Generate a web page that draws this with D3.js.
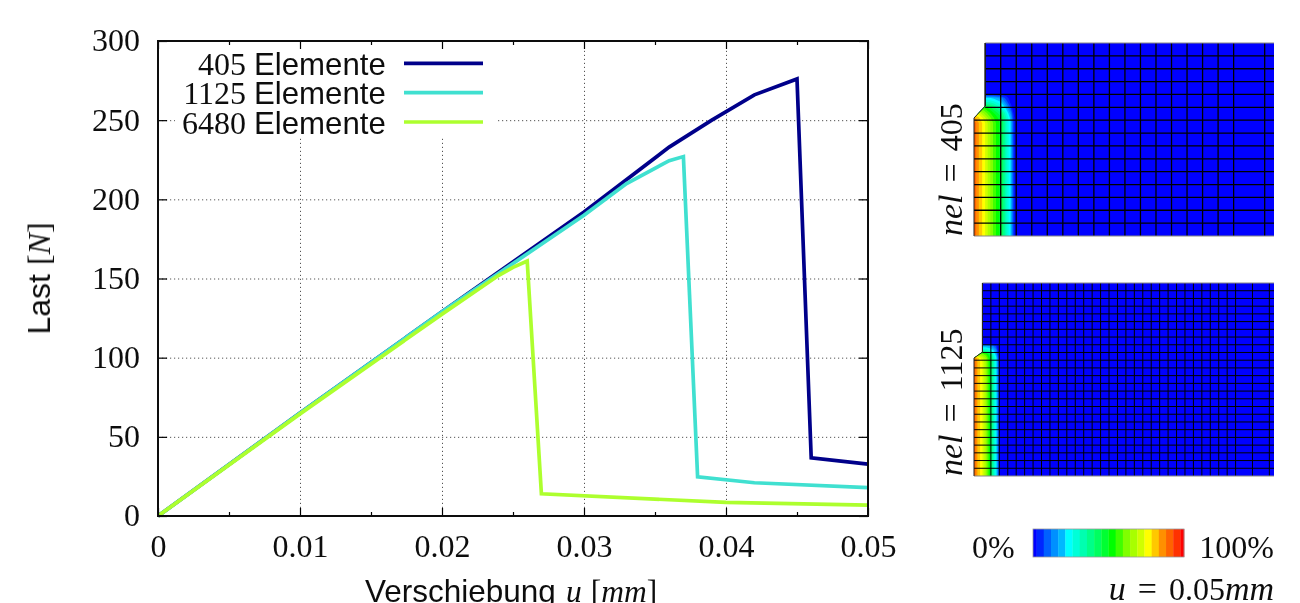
<!DOCTYPE html>
<html><head><meta charset="utf-8">
<script src="https://cdnjs.cloudflare.com/ajax/libs/d3/7.8.5/d3.min.js"></script>
<style>
html,body{margin:0;padding:0;background:#fff;overflow:hidden}
svg{display:block}
text{fill:#111}
.serif,.serif text{font-family:"Liberation Serif",serif}
.sans{font-family:"Liberation Sans",sans-serif}
.it{font-style:italic}
</style></head><body>
<svg id="c" width="1300" height="603"></svg>
<script>
// ---- chart data ----
const seriesNames = ["405","1125","6480"];
const seriesColors = ["#05058a","#40e0d0","#adff2f"];
const series405 = [[0,0],[0.01,65],[0.02,129],[0.03,192],[0.036,233],[0.039,250],[0.042,266],[0.045,276],[0.046,36.8],[0.05,32.8]];
const series1125 = [[0,0],[0.01,65],[0.02,129],[0.03,190],[0.033,210],[0.036,224.4],[0.037,227],[0.038,24.8],[0.042,21],[0.05,17.9]];
const series6480 = [[0,0],[0.01,64.5],[0.02,127.5],[0.024,152],[0.025,157],[0.026,161],[0.027,14],[0.04,8.6],[0.05,6.9]];
const xMajor = [0,0.01,0.02,0.03,0.04,0.05];
const xLabels = ["0","0.01","0.02","0.03","0.04","0.05"];
const xMinor = [0.005,0.015,0.025,0.035,0.045];
const yMajor = [0,50,100,150,200,250,300];

// ---- colour legend ----
const bandColors = ["#0000ff","#0028ff","#0060ff","#0090ff","#00b8ff","#00ffff","#00ffd8","#00ffb0","#00ff88","#00ff60","#00ff30","#00ff00","#40ff00","#80ff00","#a8ff00","#d0ff00","#ffff00","#ffc800","#ff9000","#ff6400","#ff3000","#ff0000"];

// ---- FE meshes, in element units ----
const mesh405Cols = [0,1,2,3,4,5,6,7,8,9,10,11,12,13,14,15,16,18];
const mesh405Rows = [0,1,2,3,4,5,6,7,8,9,10,11,12,13,14,15];
const mesh1125Cols = [1,2,3,4,5,6,7,8,9,10,11,12,13,14,15,16,17,18,19,20,21,22,23,24,25,26,27,28,29,30,31,33,35];
const mesh1125Rows = [0,1,2,3,4,5,6,7,8,9,10,11,12,13,14,15,16,17,18,19,20,21,22,23,24,25];
const outline405 = [[0,15],[18.6,15],[18.6,0],[-0.72,0],[-0.72,9.17],[0,10.1]];
const outline1125 = [[1,25],[35.55,25],[35.55,0],[0,0],[0,15.28],[1,16.05]];

// damage field samples (percent)
const field405X = [-0.72,-0.44,-0.08,0.27,0.56,0.99,1.34,1.63,1.8,1.93,4];
const field405Y = [0,8.78,9.17,9.56,9.95,10.33,10.72,11.03,11.8];
const field405 = [
 [92,84,76,66,58,48,32,22,8,0,0],
 [92,84,76,66,58,48,32,22,8,0,0],
 [85,80,72,62,55,47,32,20,6,0,0],
 [72,72,64,56,50,42,28,15,3,0,0],
 [55,55,55,48,42,32,20,8,0,0,0],
 [34,34,34,33,30,24,12,2,0,0,0],
 [22,22,22,22,20,15,5,0,0,0,0],
 [0,0,0,0,0,0,0,0,0,0,0],
 [0,0,0,0,0,0,0,0,0,0,0]];
const field1125X = [0,0.47,0.9,1.39,1.9,2.25,2.61,2.84,3.08,5.5];
const field1125Y = [0,14.77,15.28,15.8,16.3,16.84,17.1,18.2];
const field1125 = [
 [92,82,76,66,50,34,24,12,0,0],
 [92,82,76,66,50,34,24,12,0,0],
 [88,80,72,64,50,34,24,10,0,0],
 [62,62,62,56,44,30,18,5,0,0],
 [30,30,30,30,26,22,14,2,0,0],
 [18,18,18,18,16,12,6,0,0,0],
 [0,0,0,0,0,0,0,0,0,0],
 [0,0,0,0,0,0,0,0,0,0]];

// ---- drawing ----
const svg = d3.select("#c");
const defs = svg.append("defs");
defs.append("filter").attr("id","soft").attr("x","-2%").attr("y","-2%").attr("width","104%").attr("height","104%")
  .append("feGaussianBlur").attr("stdDeviation",0.45);
const root = svg.append("g").attr("filter","url(#soft)");

const L=158,R=868,T=41,B=516;
const x = d3.scaleLinear().domain([0,0.05]).range([L,R]);
const y = d3.scaleLinear().domain([0,300]).range([B,T]);
const plot = root.append("g");

function tidy(g){ g.select(".domain").remove(); g.selectAll("text").remove(); }
// grid
plot.append("g").attr("transform",`translate(0,${B})`)
  .call(d3.axisBottom(x).tickValues(xMajor.slice(1,-1)).tickSize(-(B-T))).call(tidy)
  .selectAll("line").attr("stroke","#555").attr("stroke-width",1).attr("stroke-dasharray","1.2 2.8");
plot.append("g").attr("transform",`translate(${L},0)`)
  .call(d3.axisLeft(y).tickValues(yMajor.slice(1,-1)).tickSize(-(R-L))).call(tidy)
  .selectAll("line").attr("stroke","#555").attr("stroke-width",1).attr("stroke-dasharray","1.2 2.8");
// legend background hides the grid
plot.append("rect").attr("x",175).attr("y",45).attr("width",323).attr("height",93).attr("fill","#fff");

// curves
const lineGen = d3.line().x(d=>x(d[0])).y(d=>y(d[1]));
[series405,series1125,series6480].forEach((s,i)=>{
  plot.append("path").datum(s).attr("d",lineGen).attr("fill","none")
    .attr("stroke",seriesColors[i]).attr("stroke-width",3.7).attr("stroke-linejoin","miter");
});

// ticks and labels
const tickStyle = s=>s.attr("stroke","#000").attr("stroke-width",1.2);
const fmt = d=>xLabels[xMajor.indexOf(d)];
const bottom = plot.append("g").attr("class","serif").attr("transform",`translate(0,${B})`)
  .call(d3.axisBottom(x).tickValues(xMajor).tickSizeOuter(0).tickSizeInner(-8).tickPadding(18.5).tickFormat(fmt));
bottom.select(".domain").remove();
bottom.selectAll("line").call(tickStyle);
bottom.selectAll("text").attr("font-size",32).attr("font-family","Liberation Serif").attr("fill","#111");
[[d3.axisBottom,B],[d3.axisTop,T]].forEach(([ax,pos])=>{
  const g=plot.append("g").attr("transform",`translate(0,${pos})`).call(ax(x).tickValues(xMinor).tickSizeOuter(0).tickSizeInner(-4).tickFormat(""));
  g.select(".domain").remove(); g.selectAll("line").call(tickStyle);
});
const top_ = plot.append("g").attr("transform",`translate(0,${T})`)
  .call(d3.axisTop(x).tickValues(xMajor).tickSizeOuter(0).tickSizeInner(-8).tickFormat(""));
top_.select(".domain").remove(); top_.selectAll("line").call(tickStyle);
const left = plot.append("g").attr("transform",`translate(${L},0)`)
  .call(d3.axisLeft(y).tickValues(yMajor).tickSizeOuter(0).tickSizeInner(-9).tickPadding(18).tickFormat(d3.format("d")));
left.select(".domain").remove(); left.selectAll("line").call(tickStyle);
left.selectAll("text").attr("font-size",32).attr("font-family","Liberation Serif").attr("fill","#111").attr("dy","0.31em");
const right = plot.append("g").attr("transform",`translate(${R},0)`)
  .call(d3.axisRight(y).tickValues(yMajor).tickSizeOuter(0).tickSizeInner(-9).tickFormat(""));
right.select(".domain").remove(); right.selectAll("line").call(tickStyle);
plot.append("rect").attr("x",L).attr("y",T).attr("width",R-L).attr("height",B-T)
  .attr("fill","none").attr("stroke","#111").attr("stroke-width",2);

// axis titles
const yt = plot.append("text").attr("transform","translate(50,278.5) rotate(-90)").attr("text-anchor","middle").attr("font-size",32);
yt.append("tspan").attr("class","sans").text("Last");
yt.append("tspan").attr("class","serif").attr("dx",9).text("[");
yt.append("tspan").attr("class","serif it").text("N");
yt.append("tspan").attr("class","serif").text("]");
const xt = plot.append("text").attr("x",365).attr("y",601.5).attr("font-size",31.5);
xt.append("tspan").attr("class","sans").text("Verschiebung");
xt.append("tspan").attr("class","serif it").attr("dx",10).text("u");
xt.append("tspan").attr("class","serif").attr("dx",9).text("[");
xt.append("tspan").attr("class","serif it").text("mm");
xt.append("tspan").attr("class","serif").text("]");

// legend
const legY = d3.scalePoint().domain(seriesNames).range([63.3,122]);
seriesNames.forEach((n,i)=>{
  const yy = legY(n);
  plot.append("text").attr("class","serif").attr("x",246).attr("y",yy+11.5).attr("text-anchor","end").attr("font-size",32).text(n);
  plot.append("text").attr("class","sans").attr("x",254).attr("y",yy+11.5).attr("font-size",31.2).text("Elemente");
  plot.append("line").attr("x1",404).attr("x2",483).attr("y1",yy).attr("y2",yy)
    .attr("stroke",seriesColors[i]).attr("stroke-width",3.7);
});

// contour colour scale
const thresholds = d3.range(bandColors.length-1).map(i=>(i+0.5)*100/21);
const colour = d3.scaleThreshold().domain(thresholds).range(bandColors);

function panel(o){
  const g = root.append("g");
  const sx = d3.scaleLinear().domain(o.xDomain).range(o.xRange);
  const sy = d3.scaleLinear().domain(o.yDomain).range(o.yRange);
  const id = "clip"+o.name;
  const pts = o.outline.map(p=>[sx(p[0]),sy(p[1])]);
  defs.append("clipPath").attr("id",id).append("polygon").attr("points",pts.join(" "));
  const body = g.append("g").attr("clip-path",`url(#${id})`);
  body.append("polygon").attr("points",pts.join(" ")).attr("fill",bandColors[0]);
  // contour bands
  const n=o.fx.length,m=o.fy.length;
  const ix = d3.scaleLinear().domain(o.fx.map((d,i)=>i+0.5)).range(o.fx.map(sx));
  const iy = d3.scaleLinear().domain(o.fy.map((d,i)=>i+0.5)).range(o.fy.map(sy));
  const path = d3.geoPath(d3.geoTransform({point(a,b){this.stream.point(ix(a),iy(b));}}));
  const cs = d3.contours().size([n,m]).smooth(true).thresholds(thresholds)(o.field.flat());
  body.selectAll("path.band").data(cs).join("path").attr("class","band")
    .attr("d",path).attr("fill",d=>colour(d.value));
  // mesh lines
  const lw=o.lw;
  o.rows.forEach(r=>{
    const x0 = r>o.rowStep ? sx(o.neck) : sx(o.xDomain[0]);
    if(r===0||r===o.rows[o.rows.length-1]) return;
    g.append("line").attr("x1",x0).attr("x2",sx(o.xDomain[1])).attr("y1",sy(r)).attr("y2",sy(r))
      .attr("stroke","#000").attr("stroke-width",lw);
  });
  o.cols.forEach(c=>{
    const y1 = c===o.neck ? sy(o.neckTop) : sy(0);
    g.append("line").attr("x1",sx(c)).attr("x2",sx(c)).attr("y1",y1).attr("y2",sy(o.yDomain[1]))
      .attr("stroke","#000").attr("stroke-width",lw);
  });
  // outline
  g.append("line").attr("x1",sx(o.neck)).attr("x2",sx(o.xDomain[1])).attr("y1",sy(o.yDomain[1])).attr("y2",sy(o.yDomain[1])).attr("stroke","#888").attr("stroke-width",1.2);
  g.append("line").attr("x1",sx(o.xDomain[0])).attr("x2",sx(o.xDomain[1])).attr("y1",sy(0)).attr("y2",sy(0)).attr("stroke","#888").attr("stroke-width",1.2);
  g.append("polyline").attr("points",[pts[3],pts[4],pts[5],pts[0]].join(" ")).attr("fill","none").attr("stroke","#222").attr("stroke-width",1);
  return g;
}
panel({name:"a",xDomain:[-0.72,18.6],xRange:[974,1274],yDomain:[0,15],yRange:[236,43],outline:outline405,
  cols:mesh405Cols,rows:mesh405Rows,neck:0,neckTop:10.1,rowStep:9,lw:1.3,fx:field405X,fy:field405Y,field:field405});
panel({name:"b",xDomain:[0,35.55],xRange:[974,1274],yDomain:[0,25],yRange:[476,283],outline:outline1125,
  cols:mesh1125Cols,rows:mesh1125Rows,neck:1,neckTop:16.05,rowStep:15,lw:1,fx:field1125X,fy:field1125Y,field:field1125});

// rotated panel captions
function nelLabel(val,yPos){
  const t=root.append("text").attr("class","serif").attr("transform",`translate(962,${yPos}) rotate(-90)`).attr("font-size",32);
  t.append("tspan").attr("class","it").attr("font-size",34).text("nel");
  t.append("tspan").attr("dx",12).attr("font-size",34).text("=");
  t.append("tspan").attr("dx",12).text(val);
}
nelLabel("405",236);
nelLabel("1125",476);

// colour bar
const barX = d3.scaleLinear().domain([0,100]).range([1033,1184]);
const edges = [0,...thresholds,100];
root.selectAll("rect.bar").data(bandColors).join("rect").attr("class","bar")
  .attr("x",(d,i)=>barX(edges[i])).attr("width",(d,i)=>barX(edges[i+1])-barX(edges[i])+0.3)
  .attr("y",529).attr("height",28).attr("fill",d=>d);
root.append("rect").attr("x",1033).attr("y",529).attr("width",151).attr("height",28).attr("fill","none").attr("stroke","#999").attr("stroke-width",0.8);
root.append("text").attr("class","serif").attr("x",972).attr("y",558).attr("font-size",32).text("0%");
root.append("text").attr("class","serif").attr("x",1274).attr("y",558).attr("text-anchor","end").attr("font-size",32).text("100%");
const ut=root.append("text").attr("class","serif").attr("x",1274).attr("y",600).attr("text-anchor","end").attr("font-size",32);
ut.append("tspan").attr("class","it").attr("font-size",34).text("u");
ut.append("tspan").attr("dx",12).attr("font-size",34).text("=");
ut.append("tspan").attr("dx",12).text("0.05");
ut.append("tspan").attr("class","it").attr("font-size",34).text("mm");
</script>
</body></html>
